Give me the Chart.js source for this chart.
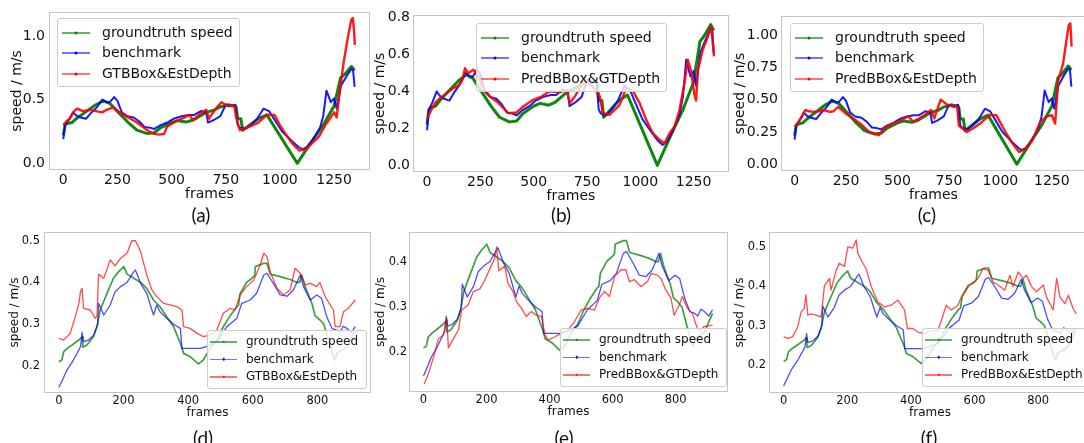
<!DOCTYPE html>
<html>
<head>
<meta charset="utf-8">
<script src="https://cdn.jsdelivr.net/npm/chart.js@4.4.1/dist/chart.umd.min.js"></script>
<style>
  html, body { margin: 0; padding: 0; background: #fff; width: 1084px; height: 443px; overflow: hidden; position: relative; font-family: "DejaVu Sans", sans-serif; }
  canvas { position: absolute; }
  .legend { position: absolute; background: rgba(255,255,255,0.8); border: 1px solid #cccccc; border-radius: 3px; white-space: nowrap; color: #111; }
  .legend .row { display: block; }
  .legend .sw { display: inline-block; position: relative; vertical-align: middle; }
  .legend .dot { position: absolute; left: 50%; top: 50%; border-radius: 50%; transform: translate(-50%, -50%); }
  .lt { font-size: 14px; padding: 2.5px 6px 2.5px 4px; }
  .lt .row { height: 20.5px; line-height: 20.5px; }
  .lt .sw { width: 28px; height: 2px; margin-right: 12px; }
  .lt .dot { width: 3px; height: 3px; }
  .lb { font-size: 12px; padding: 2.25px 8px 2.25px 2px; }
  .lb .row { height: 17.5px; line-height: 17.5px; }
  .lb .sw { width: 27px; height: 1.5px; margin-right: 9px; }
  .lb .dot { width: 2.5px; height: 2.5px; }
  .cap { position: absolute; font-family: Lato, "Open Sans", sans-serif; font-size: 19px; color: #111; transform: translate(-50%, -50%); white-space: nowrap; }
</style>
</head>
<body>
<script>
// ---------- top row data (frames 0-1345) ----------
const gtTopX = [0, 8, 15, 40, 60, 100, 150, 185, 215, 260, 300, 340, 385, 420, 450, 500, 530, 570, 600, 640, 660, 700, 720, 760, 790, 798, 805, 820, 828, 860, 900, 940, 1080, 1150, 1200, 1250, 1280, 1300, 1330, 1345];
const gtTopY = [0.22, 0.30, 0.31, 0.32, 0.35, 0.40, 0.46, 0.49, 0.47, 0.39, 0.32, 0.26, 0.235, 0.24, 0.28, 0.32, 0.335, 0.325, 0.34, 0.38, 0.40, 0.42, 0.44, 0.46, 0.45, 0.44, 0.35, 0.35, 0.26, 0.30, 0.35, 0.38, 0.0, 0.18, 0.30, 0.45, 0.67, 0.70, 0.76, 0.73];

const benchTopX = [0, 8, 25, 45, 60, 80, 105, 125, 155, 180, 200, 215, 235, 250, 270, 295, 325, 350, 375, 400, 420, 450, 480, 510, 545, 580, 605, 635, 660, 668, 695, 725, 750, 775, 795, 805, 815, 840, 865, 895, 925, 950, 980, 1010, 1040, 1065, 1085, 1105, 1125, 1150, 1185, 1200, 1215, 1235, 1250, 1262, 1282, 1310, 1330, 1338, 1345];
const benchTopY = [0.19, 0.30, 0.34, 0.40, 0.375, 0.36, 0.35, 0.39, 0.44, 0.50, 0.48, 0.48, 0.52, 0.49, 0.40, 0.37, 0.36, 0.33, 0.285, 0.28, 0.27, 0.30, 0.32, 0.35, 0.37, 0.38, 0.38, 0.41, 0.40, 0.32, 0.34, 0.37, 0.46, 0.45, 0.46, 0.30, 0.28, 0.27, 0.30, 0.35, 0.43, 0.41, 0.33, 0.25, 0.20, 0.16, 0.13, 0.11, 0.13, 0.18, 0.28, 0.37, 0.57, 0.48, 0.51, 0.43, 0.61, 0.69, 0.74, 0.73, 0.60];

// GTBBox&EstDepth (a)
const redAX = [0, 15, 30, 50, 65, 90, 120, 150, 180, 200, 230, 260, 300, 340, 380, 410, 440, 465, 480, 520, 560, 580, 600, 640, 660, 672, 700, 730, 760, 790, 798, 815, 850, 900, 940, 975, 1000, 1030, 1060, 1090, 1120, 1150, 1180, 1210, 1230, 1250, 1262, 1275, 1295, 1315, 1330, 1337, 1342, 1346];
const redAY = [0.30, 0.33, 0.35, 0.41, 0.43, 0.41, 0.42, 0.41, 0.40, 0.42, 0.44, 0.40, 0.36, 0.32, 0.27, 0.235, 0.225, 0.23, 0.29, 0.33, 0.36, 0.38, 0.34, 0.40, 0.42, 0.35, 0.42, 0.48, 0.45, 0.45, 0.36, 0.26, 0.28, 0.32, 0.38, 0.38, 0.30, 0.22, 0.15, 0.10, 0.11, 0.16, 0.21, 0.30, 0.35, 0.40, 0.36, 0.55, 0.80, 1.00, 1.13, 1.14, 1.05, 0.93];

// PredBBox&GTDepth (b)
const redBX = [0, 20, 37, 61, 92, 123, 147, 165, 178, 193, 217, 240, 264, 295, 326, 357, 381, 420, 451, 498, 537, 576, 622, 654, 669, 693, 716, 747, 778, 802, 810, 825, 856, 903, 934, 966, 997, 1028, 1059, 1090, 1114, 1137, 1161, 1184, 1207, 1223, 1239, 1254, 1262, 1270, 1293, 1317, 1332, 1346];
const redBY = [0.25, 0.30, 0.336, 0.363, 0.39, 0.417, 0.43, 0.46, 0.525, 0.498, 0.516, 0.48, 0.417, 0.372, 0.345, 0.31, 0.282, 0.286, 0.318, 0.354, 0.372, 0.40, 0.394, 0.408, 0.336, 0.372, 0.417, 0.462, 0.423, 0.39, 0.372, 0.282, 0.273, 0.327, 0.417, 0.40, 0.336, 0.246, 0.174, 0.138, 0.12, 0.174, 0.21, 0.30, 0.444, 0.57, 0.507, 0.38, 0.35, 0.516, 0.624, 0.696, 0.75, 0.588];

// PredBBox&EstDepth (c)
const redCX = [0, 20, 36, 52, 70, 92, 120, 140, 171, 190, 211, 230, 250, 298, 330, 362, 409, 441, 470, 504, 552, 576, 600, 631, 663, 679, 710, 742, 774, 790, 798, 837, 870, 901, 948, 980, 1028, 1059, 1091, 1123, 1155, 1194, 1226, 1250, 1266, 1281, 1305, 1320, 1333, 1340, 1346];
const redCY = [0.29, 0.33, 0.37, 0.42, 0.41, 0.405, 0.41, 0.42, 0.405, 0.41, 0.445, 0.42, 0.39, 0.34, 0.30, 0.25, 0.225, 0.29, 0.31, 0.33, 0.37, 0.33, 0.35, 0.38, 0.42, 0.355, 0.50, 0.46, 0.445, 0.45, 0.30, 0.25, 0.28, 0.315, 0.38, 0.38, 0.24, 0.16, 0.095, 0.12, 0.185, 0.33, 0.37, 0.38, 0.315, 0.65, 0.78, 0.95, 1.08, 1.09, 0.91];

// ---------- bottom row data (frames 0-920) ----------
const gtBotX = [0, 9, 15, 26, 41, 62, 72, 74, 87, 107, 118, 128, 149, 169, 185, 201, 211, 232, 253, 272, 293, 313, 334, 355, 378, 386, 406, 432, 447, 468, 489, 509, 530, 551, 556, 561, 581, 603, 606, 608, 634, 644, 654, 685, 716, 737, 745, 752, 762, 783, 793, 808, 820, 850, 855, 860, 891, 917];
const gtBotY = [0.21, 0.214, 0.234, 0.242, 0.25, 0.262, 0.27, 0.245, 0.25, 0.27, 0.294, 0.334, 0.374, 0.41, 0.426, 0.438, 0.42, 0.41, 0.40, 0.386, 0.358, 0.342, 0.318, 0.294, 0.25, 0.23, 0.222, 0.205, 0.214, 0.242, 0.262, 0.294, 0.32, 0.342, 0.345, 0.374, 0.40, 0.414, 0.418, 0.438, 0.446, 0.446, 0.42, 0.414, 0.407, 0.40, 0.40, 0.418, 0.39, 0.35, 0.32, 0.31, 0.30, 0.22, 0.214, 0.23, 0.245, 0.286];

const benchBotX = [0, 15, 25, 45, 67, 72, 76, 92, 108, 120, 123, 139, 159, 174, 191, 211, 232, 237, 253, 272, 288, 293, 303, 313, 334, 355, 376, 381, 397, 438, 458, 489, 520, 551, 566, 592, 612, 634, 644, 664, 685, 706, 726, 747, 757, 778, 798, 813, 829, 845, 860, 870, 880, 891, 905, 917];
const benchBotY = [0.148, 0.173, 0.19, 0.214, 0.246, 0.28, 0.258, 0.262, 0.274, 0.30, 0.35, 0.322, 0.346, 0.378, 0.39, 0.40, 0.426, 0.43, 0.398, 0.374, 0.334, 0.322, 0.346, 0.33, 0.314, 0.30, 0.29, 0.242, 0.242, 0.242, 0.247, 0.258, 0.294, 0.314, 0.35, 0.358, 0.374, 0.418, 0.422, 0.398, 0.37, 0.367, 0.382, 0.418, 0.39, 0.358, 0.37, 0.362, 0.318, 0.29, 0.286, 0.28, 0.295, 0.29, 0.28, 0.294];

// GTBBox&EstDepth (d)
const redDX = [0, 15, 35, 51, 62, 67, 72, 76, 97, 113, 118, 123, 139, 159, 174, 191, 211, 226, 237, 253, 272, 288, 303, 324, 344, 365, 381, 386, 406, 428, 447, 468, 489, 509, 530, 545, 561, 581, 603, 623, 634, 644, 654, 675, 695, 716, 731, 747, 762, 778, 798, 808, 824, 850, 855, 870, 881, 896, 917];
const redDY = [0.266, 0.262, 0.278, 0.318, 0.35, 0.378, 0.386, 0.338, 0.334, 0.314, 0.32, 0.42, 0.41, 0.454, 0.44, 0.458, 0.47, 0.50, 0.50, 0.474, 0.418, 0.382, 0.366, 0.35, 0.346, 0.342, 0.334, 0.294, 0.29, 0.278, 0.27, 0.274, 0.286, 0.326, 0.338, 0.334, 0.37, 0.39, 0.406, 0.442, 0.47, 0.462, 0.426, 0.386, 0.37, 0.382, 0.434, 0.422, 0.394, 0.398, 0.39, 0.40, 0.366, 0.334, 0.294, 0.294, 0.33, 0.338, 0.358];

// PredBBox&GTDepth (e)
const redEX = [2, 16, 32, 47, 63, 74, 79, 95, 111, 121, 142, 158, 179, 195, 211, 226, 232, 239, 258, 268, 284, 295, 311, 326, 342, 358, 374, 386, 395, 416, 437, 458, 479, 500, 521, 542, 558, 574, 590, 606, 627, 642, 653, 669, 690, 711, 722, 742, 753, 769, 785, 795, 811, 821, 837, 853, 863, 874, 890, 917];
const redEY = [0.13, 0.154, 0.19, 0.23, 0.238, 0.275, 0.21, 0.23, 0.25, 0.293, 0.305, 0.334, 0.34, 0.36, 0.385, 0.407, 0.433, 0.38, 0.39, 0.352, 0.334, 0.312, 0.297, 0.279, 0.29, 0.282, 0.279, 0.238, 0.227, 0.234, 0.242, 0.249, 0.268, 0.293, 0.297, 0.293, 0.32, 0.334, 0.323, 0.367, 0.382, 0.382, 0.356, 0.36, 0.345, 0.356, 0.374, 0.37, 0.363, 0.337, 0.32, 0.282, 0.304, 0.323, 0.297, 0.286, 0.264, 0.245, 0.257, 0.26];

// PredBBox&EstDepth (f)
const redFX = [0, 13, 28, 44, 55, 65, 70, 76, 86, 102, 118, 128, 144, 149, 165, 175, 191, 202, 217, 228, 233, 249, 259, 275, 296, 317, 338, 359, 380, 389, 406, 422, 443, 464, 485, 496, 511, 527, 548, 559, 580, 595, 611, 627, 643, 658, 674, 695, 711, 721, 737, 753, 763, 779, 795, 816, 826, 847, 858, 868, 884, 895, 910, 920];
const redFY = [0.272, 0.268, 0.272, 0.297, 0.335, 0.344, 0.378, 0.327, 0.33, 0.327, 0.322, 0.40, 0.42, 0.39, 0.44, 0.458, 0.45, 0.50, 0.496, 0.517, 0.483, 0.458, 0.445, 0.40, 0.36, 0.348, 0.352, 0.365, 0.34, 0.293, 0.293, 0.284, 0.28, 0.288, 0.288, 0.314, 0.352, 0.34, 0.352, 0.373, 0.403, 0.407, 0.42, 0.445, 0.44, 0.411, 0.403, 0.39, 0.428, 0.399, 0.436, 0.42, 0.428, 0.399, 0.386, 0.403, 0.373, 0.34, 0.42, 0.373, 0.356, 0.377, 0.343, 0.33];

// ---------- tick labels ----------
const xTicksTop = ["0", "250", "500", "750", "1000", "1250"];
const xTicksBot = ["0", "200", "400", "600", "800"];
const yTicksA = ["0.0", "0.5", "1.0"];
const yTicksB = ["0.0", "0.2", "0.4", "0.6", "0.8"];
const yTicksC = ["0.00", "0.25", "0.50", "0.75", "1.00"];
const yTicksD = ["0.2", "0.3", "0.4", "0.5"];
const yTicksE = ["0.2", "0.3", "0.4"];
const yTicksF = ["0.2", "0.3", "0.4", "0.5"];

const seriesNames = ["groundtruth speed", "benchmark"];

// ---------- panel layout ----------
const panels = [
  { cap: "(a)", frame: [49, 12, 370, 170], yW: 49, yTitlePt: 9, yPad: 4, x: [-66, 1416], y: [-0.0525, 1.188], xTicks: xTicksTop, yTicks: yTicksA,
    gt: [gtTopX, gtTopY], bench: [benchTopX, benchTopY], red: [redAX, redAY], redName: "GTBBox&EstDepth", top: true, legend: [57, 18], capPos: [201, 214] },
  { cap: "(b)", frame: [413, 15, 729, 172], yW: 43, yTitlePt: 1.6, yPad: 3, x: [-66, 1416], y: [-0.0356, 0.812], xTicks: xTicksTop, yTicks: yTicksB,
    gt: [gtTopX, gtTopY], bench: [benchTopX, benchTopY], red: [redBX, redBY], redName: "PredBBox&GTDepth", top: true, legend: [476, 23], capPos: [561, 214] },
  { cap: "(c)", frame: [781, 16, 1086, 171], yW: 49, yTitlePt: 0, yPad: 3, x: [-66, 1416], y: [-0.052, 1.147], xTicks: xTicksTop, yTicks: yTicksC,
    gt: [gtTopX, gtTopY], bench: [benchTopX, benchTopY], red: [redCX, redCY], redName: "PredBBox&EstDepth", top: true, legend: [790, 23], capPos: [927, 214] },
  { cap: "(d)", frame: [44, 232, 371, 393], yW: 44, yTitlePt: 8, yPad: 4, x: [-46, 966], y: [0.135, 0.521], xTicks: xTicksBot, yTicks: yTicksD,
    gt: [gtBotX, gtBotY], bench: [benchBotX, benchBotY], red: [redDX, redDY], redName: "GTBBox&EstDepth", top: false, legend: [207, 330], capPos: [203, 437] },
  { cap: "(e)", frame: [409, 232, 728, 392], yW: 37, yTitlePt: 1.8, yPad: 2, x: [-46, 966], y: [0.113, 0.465], xTicks: xTicksBot, yTicks: yTicksE,
    gt: [gtBotX, gtBotY], bench: [benchBotX, benchBotY], red: [redEX, redEY], redName: "PredBBox&GTDepth", top: false, legend: [560, 328], capPos: [564, 437] },
  { cap: "(f)", frame: [769, 232, 1091, 393], yW: 40, yTitlePt: 3.8, yPad: 3, x: [-46, 966], y: [0.13, 0.537], xTicks: xTicksBot, yTicks: yTicksF,
    gt: [gtBotX, gtBotY], bench: [benchBotX, benchBotY], red: [redFX, redFY], redName: "PredBBox&EstDepth", top: false, legend: [922, 328], capPos: [929, 437] }
];

const GREEN = "#008000", BLUE = "#0000ff", RED = "#ff0000";

Chart.defaults.font.family = "'DejaVu Sans', sans-serif";
Chart.defaults.color = "#111";

// light grey box round the plot area, like matplotlib spines
const frameBox = {
  id: "frameBox",
  afterDatasetsDraw(chart) {
    const a = chart.chartArea, ctx = chart.ctx;
    ctx.save();
    ctx.strokeStyle = "#c4c4c4";
    ctx.lineWidth = 1;
    ctx.strokeRect(Math.round(a.left) + 0.5, Math.round(a.top) + 0.5, Math.round(a.right - a.left) - 1, Math.round(a.bottom - a.top) - 1);
    ctx.restore();
  }
};

function pts(xs, ys) {
  return xs.map((x, i) => ({ x: x, y: ys[i] }));
}

function makePanel(p) {
  const PT = 16, PR = 4;
  const fs = p.top ? 14 : 12;
  const tickFs = p.top ? 14 : 11.5;
  const xH = p.top ? 34 : 29;
  const xTitlePb = p.top ? 1.3 : 1.8;
  const xTickPad = p.top ? 2 : 1;
  const fw = p.frame[2] - p.frame[0], fh = p.frame[3] - p.frame[1];

  const c = document.createElement("canvas");
  c.width = p.yW + fw + PR;
  c.height = PT + fh + xH;
  c.style.left = (p.frame[0] - p.yW) + "px";
  c.style.top = (p.frame[1] - PT) + "px";
  document.body.appendChild(c);

  const lw = p.top ? [3, 2, 2.4] : [1.7, 1.3, 1.3];
  const cols = p.top
    ? ["rgba(0,128,0,0.95)", "rgba(0,0,255,0.9)", "rgba(255,0,0,0.9)"]
    : ["rgba(0,128,0,0.75)", "rgba(0,0,255,0.7)", "rgba(255,0,0,0.7)"];

  return new Chart(c.getContext("2d"), {
    type: "line",
    data: {
      datasets: [
        { label: seriesNames[0], data: pts(p.gt[0], p.gt[1]), borderColor: cols[0], borderWidth: lw[0], order: 2 },
        { label: seriesNames[1], data: pts(p.bench[0], p.bench[1]), borderColor: cols[1], borderWidth: lw[1], order: 1 },
        { label: p.redName, data: pts(p.red[0], p.red[1]), borderColor: cols[2], borderWidth: lw[2], order: 0 }
      ]
    },
    options: {
      responsive: false,
      animation: false,
      devicePixelRatio: 1,
      layout: { padding: { top: PT, right: PR, left: 0, bottom: 0 } },
      elements: {
        line: { tension: 0, fill: false, borderJoinStyle: "round" },
        point: { radius: 0, hoverRadius: 0 }
      },
      plugins: { legend: { display: false }, tooltip: { enabled: false } },
      scales: {
        x: {
          type: "linear",
          min: p.x[0],
          max: p.x[1],
          afterFit: (s) => { s.height = xH; },
          afterBuildTicks: (s) => { s.ticks = p.xTicks.map((t) => ({ value: parseFloat(t) })); },
          ticks: { callback: (v, i) => p.xTicks[i], padding: xTickPad, font: { size: tickFs }, color: "#111", maxRotation: 0, autoSkip: false },
          grid: { display: false, drawTicks: false },
          border: { display: false },
          title: { display: true, text: "frames", font: { size: fs }, color: "#111", padding: { top: 0, bottom: xTitlePb } }
        },
        y: {
          type: "linear",
          min: p.y[0],
          max: p.y[1],
          afterFit: (s) => { s.width = p.yW; },
          afterBuildTicks: (s) => { s.ticks = p.yTicks.map((t) => ({ value: parseFloat(t) })); },
          ticks: { callback: (v, i) => p.yTicks[i], padding: p.yPad, font: { size: tickFs }, color: "#111", autoSkip: false },
          grid: { display: false, drawTicks: false },
          border: { display: false },
          title: { display: true, text: "speed / m/s", font: { size: fs }, color: "#111", padding: { top: p.yTitlePt, bottom: 0 } }
        }
      }
    },
    plugins: [frameBox]
  });
}

function addLegend(p) {
  const box = document.createElement("div");
  box.className = "legend " + (p.top ? "lt" : "lb");
  box.style.left = p.legend[0] + "px";
  box.style.top = p.legend[1] + "px";
  const items = [
    [seriesNames[0], "rgba(0,128,0,0.6)", GREEN],
    [seriesNames[1], "rgba(0,0,255,0.55)", BLUE],
    [p.redName, "rgba(255,0,0,0.55)", RED]
  ];
  items.forEach((it) => {
    const row = document.createElement("div");
    row.className = "row";
    const sw = document.createElement("span");
    sw.className = "sw";
    sw.style.background = it[1];
    const dot = document.createElement("span");
    dot.className = "dot";
    dot.style.background = it[2];
    sw.appendChild(dot);
    const txt = document.createElement("span");
    txt.textContent = it[0];
    row.appendChild(sw);
    row.appendChild(txt);
    box.appendChild(row);
  });
  document.body.appendChild(box);
}

function addCaption(p) {
  const d = document.createElement("div");
  d.className = "cap";
  d.textContent = p.cap;
  d.style.left = p.capPos[0] + "px";
  d.style.top = p.capPos[1] + "px";
  document.body.appendChild(d);
}

panels.forEach((p) => {
  makePanel(p);
  addLegend(p);
  addCaption(p);
});
</script>
</body>
</html>
